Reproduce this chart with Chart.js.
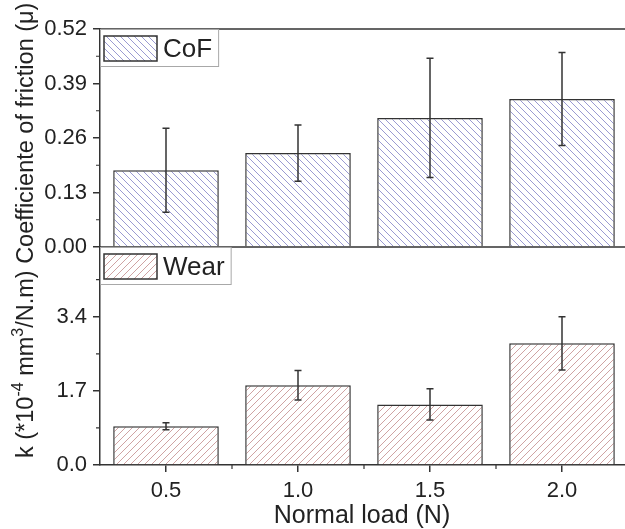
<!DOCTYPE html>
<html><head><meta charset="utf-8">
<script src="https://cdn.jsdelivr.net/npm/chart.js@4.4.0/dist/chart.umd.min.js"></script>
<style>html,body{margin:0;padding:0;overflow:hidden;background:#fff}
#wrap{width:632px;height:529px;position:relative}</style>
</head><body><div id="wrap"><canvas id="c" width="632" height="529"></canvas></div>
<script>
// ---- data ----
const loads = [0.5, 1.0, 1.5, 2.0];
const cof = [0.183, 0.224, 0.308, 0.353];
const cofErr = [0.100, 0.067, 0.142, 0.111];
const wear = [0.89, 1.83, 1.39, 2.79];
const wearErr = [0.08, 0.34, 0.36, 0.61];
const xTicks = [0.5, 1.0, 1.5, 2.0];
const xMinor = [0.75, 1.25, 1.75];
const cofTicks = [0, 0.13, 0.26, 0.39, 0.52];
const cofMinor = [0.065, 0.195, 0.325, 0.455];
const wearTicks = [0, 1.7, 3.4];
const wearMinor = [0.85, 2.55, 4.25];
const seriesNames = ['CoF', 'Wear'];
const xTitle = 'Normal load (N)';

const FAM = '"Liberation Sans", Arial, sans-serif';
const TXT = '#222222', AX = '#333333';
const font = {family: FAM, size: 22};

function tile(color, dir){
  const s = 7, c = document.createElement('canvas'); c.width = s; c.height = s;
  const g = c.getContext('2d'); g.fillStyle = '#fff'; g.fillRect(0,0,s,s);
  g.strokeStyle = color; g.lineWidth = 1; g.beginPath();
  if (dir === 'back') {
    g.moveTo(-2,-2); g.lineTo(s+2,s+2);
    g.moveTo(-2,s-2); g.lineTo(2,s+2);
    g.moveTo(s-2,-2); g.lineTo(s+2,2);
  } else {
    g.moveTo(-2,s+2); g.lineTo(s+2,-2);
    g.moveTo(-2,2); g.lineTo(2,-2);
    g.moveTo(s-2,s+2); g.lineTo(s+2,s-2);
  }
  g.stroke();
  return c;
}
const ctx = document.getElementById('c').getContext('2d');
const pC = ctx.createPattern(tile('#9a9ad2','back'), 'repeat');
const pW = ctx.createPattern(tile('#cfa3a3','fwd'), 'repeat');

function yAxis(min, max, ticks, dec){
  return {
    type: 'linear', position: 'left', stack: 'v', stackWeight: 1, min, max,
    afterBuildTicks(s){ s.ticks = ticks.map(v => ({value: v})); },
    ticks: {font, color: TXT, padding: 6, callback: v => Number(v).toFixed(dec)},
    grid: {drawOnChartArea: false, drawTicks: true, tickLength: 7, color: AX, lineWidth: 1.5},
    border: {display: true, color: AX, width: 1.5},
    afterFit(s){ s.width = 100; }
  };
}

const deco = {
  id: 'deco',
  afterDatasetsDraw(chart){
    const c = chart.ctx, a = chart.chartArea, sx = chart.scales.x, yC = chart.scales.yC, yW = chart.scales.yW;
    c.save();
    c.strokeStyle = AX; c.lineWidth = 1.5;
    // frame lines
    c.beginPath();
    c.moveTo(a.left, a.top); c.lineTo(a.right, a.top);
    const mid = yC.getPixelForValue(0);
    c.moveTo(a.left, mid); c.lineTo(a.right, mid);
    c.stroke();
    // minor ticks
    c.lineWidth = 1.2; c.beginPath();
    cofMinor.forEach(v => { const y = yC.getPixelForValue(v); c.moveTo(a.left - 4, y); c.lineTo(a.left, y); });
    wearMinor.forEach(v => { const y = yW.getPixelForValue(v); c.moveTo(a.left - 4, y); c.lineTo(a.left, y); });
    xMinor.forEach(v => { const x = sx.getPixelForValue(v); c.moveTo(x, a.bottom); c.lineTo(x, a.bottom + 4); });
    c.stroke();
    // error bars
    c.lineWidth = 1.5;
    const eb = (sc, vals, errs) => vals.forEach((v, i) => {
      const x = sx.getPixelForValue(loads[i]);
      const y1 = sc.getPixelForValue(v + errs[i]), y2 = sc.getPixelForValue(v - errs[i]);
      c.beginPath();
      c.moveTo(x, y1); c.lineTo(x, y2);
      c.moveTo(x - 3.5, y1); c.lineTo(x + 3.5, y1);
      c.moveTo(x - 3.5, y2); c.lineTo(x + 3.5, y2);
      c.stroke();
    });
    eb(yC, cof, cofErr); eb(yW, wear, wearErr);
    // legends
    const leg = (top, name, pat) => {
      c.font = '26px ' + FAM;
      const tw = c.measureText(name).width;
      const bx = a.left, bw = 163 - a.left + tw + 6, bh = 37;
      c.fillStyle = '#fff'; c.fillRect(bx, top, bw, bh);
      c.strokeStyle = '#a8a8a8'; c.lineWidth = 1; c.strokeRect(bx + 0.5, top + 0.5, bw, bh);
      c.fillStyle = pat; c.fillRect(a.left + 4, top + 7, 53, 25);
      c.strokeStyle = AX; c.lineWidth = 1.5; c.strokeRect(a.left + 4, top + 7, 53, 25);
      c.fillStyle = TXT; c.textBaseline = 'middle'; c.textAlign = 'left';
      c.fillText(name, 163, top + 21);
    };
    leg(a.top, seriesNames[0], pC);
    leg(mid, seriesNames[1], pW);
    // x title
    c.fillStyle = TXT; c.font = '25px ' + FAM; c.textAlign = 'center'; c.textBaseline = 'middle';
    c.fillText(xTitle, 362, 516);
    // y title (rotated, with superscripts)
    c.translate(33, 458); c.rotate(-Math.PI / 2);
    c.textAlign = 'left'; c.textBaseline = 'alphabetic';
    const parts = [['k (*10', 0], ['-4', 1], [' mm', 0], ['3', 1], ['/N.m) Coefficiente of friction (\u03bc)', 0]];
    let u = 0;
    parts.forEach(([t, sup]) => {
      c.font = (sup ? '16px ' : '23.5px ') + FAM;
      c.fillText(t, u, sup ? -10 : 0);
      u += c.measureText(t).width;
    });
    c.restore();
  }
};

new Chart(ctx, {
  type: 'bar',
  data: {
    datasets: [
      {label: seriesNames[1], data: loads.map((x, i) => ({x, y: wear[i]})), yAxisID: 'yW',
       backgroundColor: pW, borderColor: AX, borderWidth: 1.5, grouped: false, barPercentage: 0.8, categoryPercentage: 1},
      {label: seriesNames[0], data: loads.map((x, i) => ({x, y: cof[i]})), yAxisID: 'yC',
       backgroundColor: pC, borderColor: AX, borderWidth: 1.5, grouped: false, barPercentage: 0.8, categoryPercentage: 1}
    ]
  },
  options: {
    responsive: false, animation: false, devicePixelRatio: 1,
    layout: {padding: {left: 0, right: 4, top: 29, bottom: 0}},
    plugins: {legend: {display: false}, tooltip: {enabled: false}},
    scales: {
      x: {
        type: 'linear', min: 0.25, max: 2.25, offset: false,
        afterBuildTicks(s){ s.ticks = xTicks.map(v => ({value: v})); },
        ticks: {font, color: TXT, padding: 6, maxRotation: 0, callback: v => Number(v).toFixed(1)},
        grid: {offset: false, drawOnChartArea: false, drawTicks: true, tickLength: 7, color: AX, lineWidth: 1.5},
        border: {display: true, color: AX, width: 1.5},
        afterFit(s){ s.height = 64; }
      },
      yW: yAxis(0, 5.0, wearTicks, 1),
      yC: yAxis(0, 0.52, cofTicks, 2)
    }
  },
  plugins: [deco]
});
</script></body></html>
